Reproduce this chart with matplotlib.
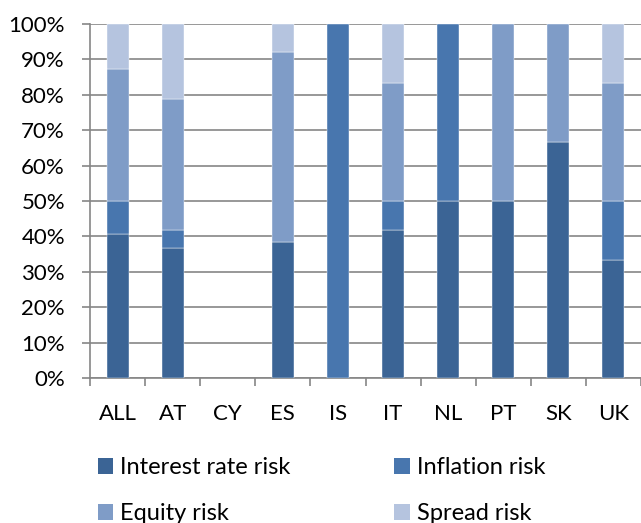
import matplotlib
matplotlib.use("Agg")
import matplotlib.pyplot as plt
import numpy as np
from matplotlib.patches import Patch

categories = ["ALL", "AT", "CY", "ES", "IS", "IT", "NL", "PT", "SK", "UK"]
interest = [40.7, 36.6, 0, 38.3, 0, 41.7, 50, 50, 66.7, 33.3]
inflation = [9.3, 5.3, 0, 0, 100, 8.3, 50, 0, 0, 16.7]
equity = [37.3, 37.0, 0, 53.8, 0, 33.3, 0, 50, 33.3, 33.3]
spread = [12.7, 21.1, 0, 7.9, 0, 16.7, 0, 0, 0, 16.7]
series_names = ["Interest rate risk", "Inflation risk", "Equity risk", "Spread risk"]
colors = ["#3B6495", "#4876AE", "#7F9CC7", "#B5C4DF"]

plt.rcParams['font.family'] = ['Lato', 'DejaVu Sans']
fig = plt.figure(figsize=(6.41, 5.23), dpi=100)
ax = fig.add_axes([90/641, 1-378/523, 1-90/641, (378-24)/523])

x = np.arange(len(categories))
bottom = np.zeros(len(categories))
for vals, c, name in zip([interest, inflation, equity, spread], colors, series_names):
    v = np.array(vals, dtype=float)
    mask = v > 0
    ax.bar(x[mask], v[mask], 0.4, bottom=bottom[mask], color=c, edgecolor="white",
           linewidth=0.3, label=name, zorder=3)
    bottom += v

ax.set_xlim(-0.5, 9.44)
ax.set_ylim(0, 100)
ax.set_yticks(np.arange(0, 101, 10))
ax.set_yticklabels([f"{t}%" for t in range(0, 101, 10)], fontsize=16)
ax.yaxis.grid(True, color="#868686", linewidth=1.2, zorder=0)
ax.set_axisbelow(True)
ax.set_xticks(x)
ax.set_xticklabels(categories, fontsize=16)
ax.set_xticks(np.arange(-0.5, 9.6, 1), minor=True)
ax.tick_params(axis="x", which="major", length=0, pad=19)
ax.tick_params(axis="x", which="minor", length=6, color="#868686", width=1.2)
ax.tick_params(axis="y", length=6, color="#868686", width=1.2, pad=12)
for s in ["top", "right"]:
    ax.spines[s].set_visible(False)
for s in ["left", "bottom"]:
    ax.spines[s].set_color("#868686")
    ax.spines[s].set_linewidth(1.2)

# legend in row-major order: (Interest, Inflation) / (Equity, Spread)
order = [0, 2, 1, 3]
handles = [Patch(facecolor=colors[i], edgecolor="none") for i in order]
labels = [series_names[i] for i in order]
fig.legend(handles, labels, ncol=2, loc="upper left", bbox_to_anchor=(98/641, 1-457/523),
           frameon=False, fontsize=17, handlelength=0.64, handleheight=0.64, handletextpad=0.3,
           columnspacing=4.4, labelspacing=1.08, borderaxespad=0, borderpad=0)

fig.savefig("out.png", dpi=100)
